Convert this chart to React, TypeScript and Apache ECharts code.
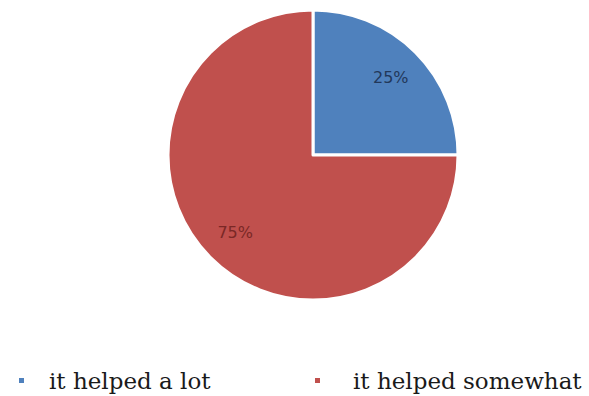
import React, { useEffect, useRef } from "react";
import * as echarts from "echarts";

const categories = ["it helped a lot", "it helped somewhat"];
const values = [25, 75];
const labelTexts = ["25%", "75%"];
const colors = ["#4F81BD", "#C0504D"];
const labelColors = ["#22385a", "#7a2826"];

export default function App() {
  const ref = useRef<HTMLDivElement>(null);
  useEffect(() => {
    if (!ref.current) return;
    const chart = echarts.init(ref.current, undefined, { renderer: "svg" });
    const data = categories.map((name, i) => ({
      name,
      value: values[i],
      itemStyle: { color: colors[i] },
    }));
    const labelData = categories.map((name, i) => ({
      name,
      value: values[i],
      label: { color: labelColors[i], formatter: labelTexts[i] },
    }));
    const legendBase = {
      orient: "horizontal",
      top: 368,
      padding: 0,
      icon: "rect",
      itemWidth: 7,
      itemHeight: 7,
      selectedMode: false,
    };
    const textBase = {
      fontFamily: "DejaVu Serif",
      fontSize: 23,
      color: "#1a1a1a",
      lineHeight: 25,
    };
    chart.setOption({
      animation: false,
      backgroundColor: "#ffffff",
      legend: [
        {
          ...legendBase,
          left: 17,
          data: [categories[0]],
          textStyle: { ...textBase, padding: [0, 0, 0, 19] },
        },
        {
          ...legendBase,
          left: 313,
          data: [categories[1]],
          textStyle: { ...textBase, padding: [0, 0, 0, 27] },
        },
      ],
      series: [
        {
          type: "pie",
          center: [313, 155],
          radius: [0, 145],
          startAngle: 90,
          clockwise: true,
          silent: true,
          label: { show: false },
          labelLine: { show: false },
          itemStyle: { borderColor: "#ffffff", borderWidth: 3 },
          data,
        },
        {
          type: "pie",
          center: [313, 155],
          radius: [0, 214],
          startAngle: 90,
          clockwise: true,
          silent: true,
          itemStyle: { color: "rgba(0,0,0,0)" },
          label: {
            show: true,
            position: "inside",
            fontFamily: "DejaVu Sans",
            fontSize: 16,
          },
          labelLine: { show: false },
          data: labelData,
        },
      ],
    });
    return () => chart.dispose();
  }, []);
  return <div ref={ref} style={{ width: 589, height: 396, position: "absolute", left: 0, top: 0 }} />;
}
